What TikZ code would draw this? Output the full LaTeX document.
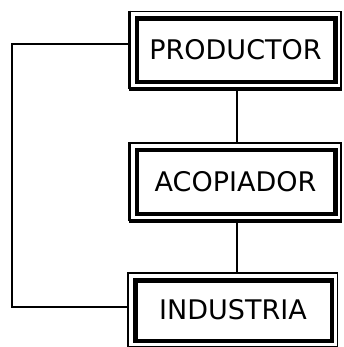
\documentclass[tikz,border=0pt]{standalone}
\usepackage{fontspec}
\setmainfont{DejaVu Sans}
\begin{document}
\begin{tikzpicture}[x=1pt,y=-1pt,
  stage/.style={draw, line width=1.5pt, rectangle, inner sep=0pt, minimum width=#1, minimum height=77pt,
    font=\fontsize{27}{29}\selectfont},
  stage/.default=211pt,
  inner frame/.style={line width=4.5pt},
  link/.style={line width=1.4pt}]
\useasboundingbox (0,0) rectangle (344,347);
\node[stage=211pt] (P) at (235.5,50) {PRODUCTOR};
\node[stage=211pt] (A) at (235.5,181.5) {ACOPIADOR};
\node[stage=209pt, minimum height=74pt] (I) at (233,310) {INDUSTRIA};
\foreach \n in {P,A,I}{
  \draw[inner frame] ([shift={(7.5pt,-8pt)}]\n.north west) rectangle ([shift={(-6.5pt,7pt)}]\n.south east);
  \draw[line width=3.5pt] ([xshift=-0.5pt]\n.south west) -- (\n.south east);
  \draw[line width=2.5pt] (\n.north west) -- (\n.south west);
}
\coordinate (pl) at (130,44);
\coordinate (il) at (128,307);
\coordinate (lx) at (12,0);
\draw[link] (P.south -| 237,0) -- (A.north -| 237,0);
\draw[link] (A.south -| 237,0) -- (I.north -| 237,0);
\draw[link] (pl) -- (pl -| lx) -- (il -| lx) -- (il);
\end{tikzpicture}
\end{document}
